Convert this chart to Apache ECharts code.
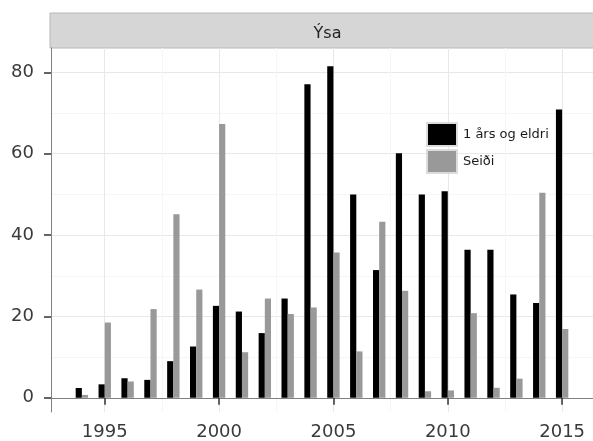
<!DOCTYPE html>
<html>
<head>
<meta charset="utf-8">
<script src="https://cdn.jsdelivr.net/npm/echarts@6/dist/echarts.min.js"></script>
<style>html,body{margin:0;padding:0;background:#fff}#c{width:593px;height:441px}</style>
</head>
<body>
<div id="c"></div>
<script>
var years = [1994,1995,1996,1997,1998,1999,2000,2001,2002,2003,2004,2005,2006,2007,2008,2009,2010,2011,2012,2013,2014,2015];
var eldri = [2.4,3.3,4.8,4.4,9.0,12.6,22.6,21.2,15.9,24.4,77.1,81.5,50.0,31.4,60.1,50.0,50.8,36.4,36.4,25.4,23.3,70.9];
var seidi = [0.7,18.5,4.0,21.8,45.1,26.6,67.3,11.2,24.4,20.6,22.2,35.7,11.4,43.3,26.3,1.6,1.8,20.8,2.45,4.7,50.4,16.9];
var xTicks = [1995,2000,2005,2010,2015];
var xMinor = [1992.5,1997.5,2002.5,2007.5,2012.5];
var yTicks = [0,20,40,60,80];
var yMinor = [10,30,50,70];
var panelTitle = 'Ýsa';
var seriesNames = ['1 års og eldri','Seiði'];

var chart = echarts.init(document.getElementById('c'));
var FONT = 'DejaVu Sans';
var grid = {left:51, top:48, width:547, height:365};
function plain(v){ return String(v); }
chart.setOption({
  animation:false,
  backgroundColor:'#fff',
  title:{text:panelTitle, left:322.5, textAlign:'center', top:21,
    textStyle:{fontFamily:FONT, fontSize:16, fontWeight:'normal', color:'#222'}},
  graphic:[{type:'rect', z:-1, shape:{x:50, y:13, width:560, height:35},
    style:{fill:'#d6d6d6', stroke:'#b8b8b8', lineWidth:1}}],
  legend:{orient:'vertical', left:421, top:117, itemWidth:30, itemHeight:23, itemGap:2,
    icon:'rect', itemStyle:{borderColor:'#dcdcdc', borderWidth:2},
    textStyle:{fontFamily:FONT, fontSize:13, color:'#1a1a1a', padding:[0,0,0,1]},
    data:seriesNames},
  grid:grid,
  xAxis:[{type:'value', min:1992.65, max:2016.35,
    axisLine:{show:true, lineStyle:{color:'#808080', width:1}},
    axisTick:{show:true, customValues:xTicks, length:7, lineStyle:{color:'#333', width:1.5}},
    axisLabel:{customValues:xTicks, formatter:plain, margin:11, fontFamily:FONT, fontSize:18, color:'#3a3a3a'},
    splitLine:{show:true, lineStyle:{color:'#e8e8e8', width:1}}},
    {type:'value', min:1992.65, max:2016.35, position:'bottom',
    axisLine:{show:false}, axisTick:{show:false, customValues:xMinor}, axisLabel:{show:false, customValues:xMinor},
    splitLine:{show:true, lineStyle:{color:'#f6f6f6', width:1}}}],
  yAxis:[{type:'value', min:-3.5, max:86,
    axisLine:{show:true, lineStyle:{color:'#808080', width:1}},
    axisTick:{show:true, customValues:yTicks, length:7, lineStyle:{color:'#333', width:1.5}},
    axisLabel:{customValues:yTicks, formatter:plain, margin:17, fontFamily:FONT, fontSize:18, color:'#3a3a3a'},
    splitLine:{show:true, lineStyle:{color:'#e8e8e8', width:1}}},
    {type:'value', min:-3.5, max:86, position:'left',
    axisLine:{show:false}, axisTick:{show:false, customValues:yMinor}, axisLabel:{show:false, customValues:yMinor},
    splitLine:{show:true, lineStyle:{color:'#f6f6f6', width:1}}}],
  series:[
    {name:seriesNames[0], type:'bar', xAxisIndex:0, yAxisIndex:0, barWidth:6.2, barGap:'0%',
      itemStyle:{color:'#000'}, data:years.map(function(y,i){return [y, eldri[i]];})},
    {name:seriesNames[1], type:'bar', xAxisIndex:0, yAxisIndex:0, barWidth:6.2, barGap:'0%',
      itemStyle:{color:'#999'}, data:years.map(function(y,i){return [y, seidi[i]];})}
  ]
});
</script>
</body>
</html>
